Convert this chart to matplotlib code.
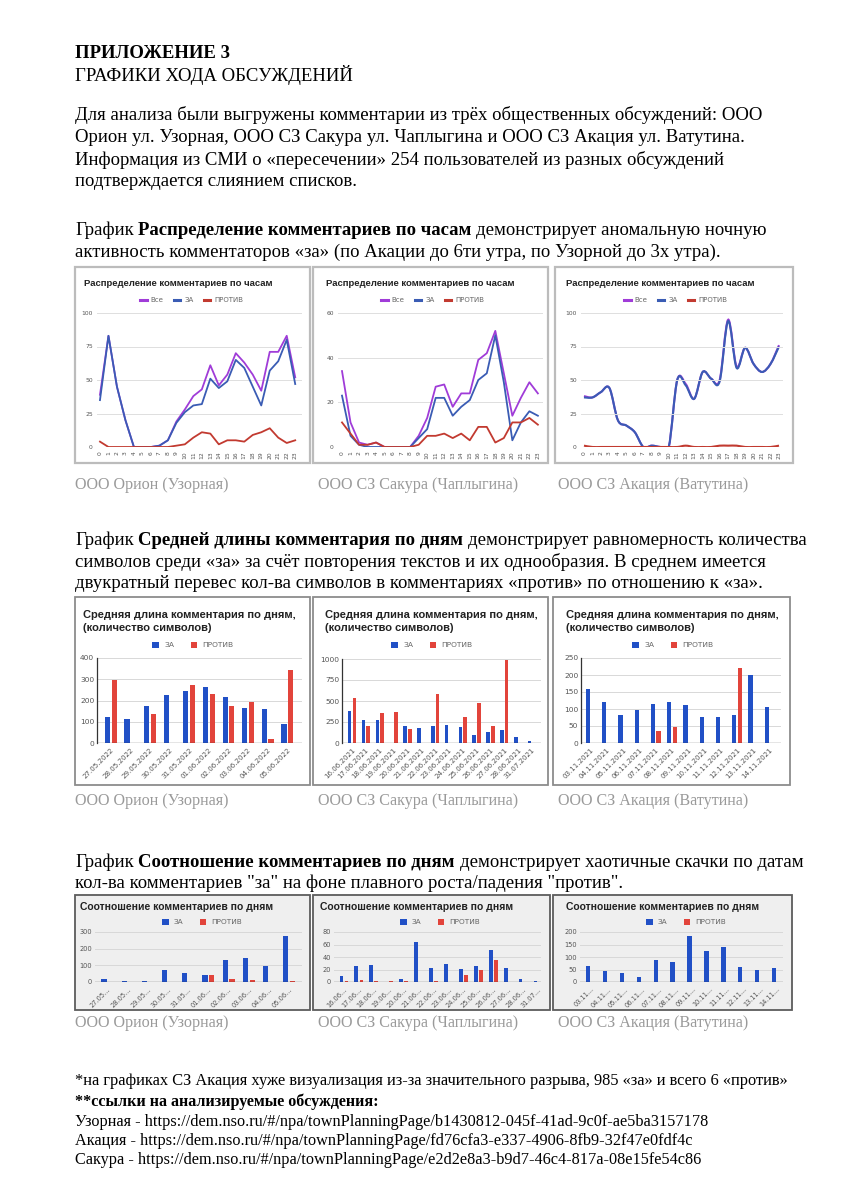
import numpy as np
import matplotlib.pyplot as plt
from matplotlib.path import Path
from matplotlib.patches import PathPatch, Rectangle
from matplotlib.lines import Line2D

W, H = 845, 1200
SERIF = "Liberation Serif"
SANS = "Liberation Sans"

# ---- comments per hour (0..23)
hours = list(range(24))
uzor_all = [39, 83, 45, 20, 0, 0, 0, 1, 5, 19, 28, 38, 43, 61, 46, 54, 70, 63, 54, 42, 71, 71, 83, 52]
uzor_za = [35, 83, 45, 20, 0, 0, 0, 1, 5, 18, 26, 31, 32, 51, 44, 49, 65, 59, 45, 31, 57, 64, 80, 47]
uzor_pr = [4, 0, 0, 0, 0, 0, 0, 0, 0, 1, 2, 7, 11, 10, 2, 5, 5, 4, 9, 11, 14, 7, 3, 5]

sakura_all = [34, 11, 2, 1, 2, 0, 0, 0, 0, 5, 13, 27, 28, 18, 24, 24, 39, 42, 52, 33, 14, 22, 29, 24]
sakura_za = [23, 5, 1, 0, 0, 0, 0, 0, 0, 4, 8, 22, 22, 14, 18, 21, 30, 33, 50, 29, 3, 11, 16, 14]
sakura_pr = [11, 6, 1, 1, 2, 0, 0, 0, 0, 1, 5, 5, 6, 4, 6, 3, 9, 9, 2, 4, 11, 11, 13, 10]

akacia_all = [38, 37, 41, 44, 20, 16, 11, 0, 1, 0, 0, 50, 47, 36, 56, 51, 50, 95, 60, 74, 62, 56, 62, 76]
akacia_za = [37, 37, 41, 44, 20, 16, 11, 0, 1, 0, 0, 50, 46, 36, 56, 51, 49, 94, 59, 74, 62, 56, 62, 75]
akacia_pr = [1, 0, 0, 0, 0, 0, 0, 0, 0, 0, 0, 0, 1, 0, 0, 0, 1, 1, 1, 0, 0, 0, 0, 1]

# ---- average comment length per day
uzor_days = ["27.05.2022", "28.05.2022", "29.05.2022", "30.05.2022", "31.05.2022",
             "01.06.2022", "02.06.2022", "03.06.2022", "04.06.2022", "05.06.2022"]
uzor_len_za = [123, 113, 173, 224, 245, 263, 217, 165, 158, 90]
uzor_len_pr = [297, 0, 137, 0, 275, 230, 176, 195, 18, 342]

sakura_days = ["16.06.2021", "17.06.2021", "18.06.2021", "19.06.2021", "20.06.2021", "21.06.2021",
               "22.06.2021", "23.06.2021", "24.06.2021", "25.06.2021", "26.06.2021", "27.06.2021",
               "28.06.2021", "31.07.2021"]
sakura_len_za = [378, 279, 270, 0, 205, 180, 205, 215, 190, 90, 130, 150, 75, 25]
sakura_len_pr = [538, 207, 363, 370, 170, 0, 582, 0, 310, 475, 205, 990, 0, 0]

akacia_days = ["03.11.2021", "04.11.2021", "05.11.2021", "06.11.2021", "07.11.2021", "08.11.2021",
               "09.11.2021", "10.11.2021", "11.11.2021", "12.11.2021", "13.11.2021", "14.11.2021"]
akacia_len_za = [158, 120, 82, 97, 114, 120, 113, 77, 76, 81, 200, 107]
akacia_len_pr = [0, 0, 0, 0, 35, 48, 0, 0, 0, 222, 0, 0]

# ---- number of comments per day
uzor_cnt_za = [18, 7, 7, 75, 52, 40, 135, 147, 97, 277]
uzor_cnt_pr = [0, 0, 3, 0, 0, 45, 18, 10, 0, 7]
sakura_cnt_za = [10, 26, 27, 0, 5, 64, 22, 29, 21, 26, 52, 23, 5, 1]
sakura_cnt_pr = [2, 4, 1, 1, 1, 0, 2, 0, 11, 19, 35, 0, 0, 0]
akacia_cnt_za = [65, 45, 37, 22, 87, 82, 186, 125, 140, 60, 47, 55]
akacia_cnt_pr = [0, 0, 0, 0, 2, 2, 0, 0, 0, 2, 0, 0]

C_ALL = "#a03cd8"
C_ZA_L = "#3a5cb4"
C_PR_L = "#c23a30"
C_ZA = "#2150c6"
C_PR = "#e2443b"
TICK = "#555555"

fig = plt.figure(figsize=(W / 100, H / 100), dpi=100)
bg = fig.add_axes([0, 0, 1, 1])
bg.set_xlim(0, W)
bg.set_ylim(H, 0)
bg.axis("off")


def axes_at(x0, y0, x1, y1):
    return fig.add_axes([x0 / W, 1 - y1 / H, (x1 - x0) / W, (y1 - y0) / H])


def rich(x, y, parts, size=13.5):
    # parts: list of (text, bold); pieces are chained left to right
    prev = None
    for txt, bold in parts:
        w = "bold" if bold else "normal"
        if prev is None:
            prev = bg.text(x, y, txt, fontsize=size, family=SERIF, weight=w, va="center", ha="left")
        else:
            prev = bg.annotate(txt, xy=(1, 0), xycoords=prev, xytext=(size * 0.25, 0),
                               textcoords="offset points", fontsize=size, family=SERIF,
                               weight=w, va="bottom", ha="left")


def line(x, y, txt, size=13.5, bold=False, color="black"):
    bg.text(x, y, txt, fontsize=size, family=SERIF, weight="bold" if bold else "normal",
            va="center", ha="left", color=color)


def smooth_path(xs, ys):
    xs = np.asarray(xs, float)
    ys = np.asarray(ys, float)
    n = len(xs)
    verts = [(xs[0], ys[0])]
    codes = [Path.MOVETO]
    for i in range(n - 1):
        a, b = max(i - 1, 0), min(i + 2, n - 1)
        c1 = (xs[i] + (xs[i + 1] - xs[a]) / 6, ys[i] + (ys[i + 1] - ys[a]) / 6)
        c2 = (xs[i + 1] - (xs[b] - xs[i]) / 6, ys[i + 1] - (ys[b] - ys[i]) / 6)
        verts += [c1, c2, (xs[i + 1], ys[i + 1])]
        codes += [Path.CURVE4] * 3
    return Path(verts, codes)


# ---------------- text blocks
line(75, 54, "ПРИЛОЖЕНИЕ 3", bold=True)
line(75, 75, "ГРАФИКИ ХОДА ОБСУЖДЕНИЙ")
line(75, 115, "Для анализа были выгружены комментарии из трёх общественных обсуждений: ООО")
line(75, 137, "Орион ул. Узорная, ООО СЗ Сакура ул. Чаплыгина и ООО СЗ Акация ул. Ватутина.")
line(75, 160, "Информация из СМИ о «пересечении» 254 пользователей из разных обсуждений")
line(75, 182, "подтверждается слиянием списков.")

rich(75, 230, [("График", False), ("Распределение комментариев по часам", True),
               ("демонстрирует аномальную ночную", False)])
line(75, 252, "активность комментаторов «за» (по Акации до 6ти утра, по Узорной до 3х утра).")

rich(75, 540, [("График", False), ("Средней длины комментария по дням", True),
               ("демонстрирует равномерность количества", False)])
line(75, 562, "символов среди «за» за счёт повторения текстов и их однообразия. В среднем имеется")
line(75, 583, "двукратный перевес кол-ва символов в комментариях «против» по отношению к «за».")

rich(75, 862, [("График", False), ("Соотношение комментариев по дням", True),
               ("демонстрирует хаотичные скачки по датам", False)])
line(75, 883, "кол-ва комментариев \"за\" на фоне плавного роста/падения \"против\".")

captions = ["ООО Орион (Узорная)", "ООО СЗ Сакура (Чаплыгина)", "ООО СЗ Акация (Ватутина)"]
for cy in (485, 801, 1023):
    for cx, cap in zip((75, 318, 558), captions):
        line(cx, cy, cap, size=11.6, color="#9a9a9a")

line(75, 1081, "*на графиках СЗ Акация хуже визуализация из-за значительного разрыва, 985 «за» и всего 6 «против»", size=11.75)
line(75, 1102, "**ссылки на анализируемые обсуждения:", size=11.6, bold=True)
line(75, 1122, "Узорная - https://dem.nso.ru/#/npa/townPlanningPage/b1430812-045f-41ad-9c0f-ae5ba3157178", size=11.66)
line(75, 1141, "Акация - https://dem.nso.ru/#/npa/townPlanningPage/fd76cfa3-e337-4906-8fb9-32f47e0fdf4c", size=11.66)
line(75, 1160, "Сакура - https://dem.nso.ru/#/npa/townPlanningPage/e2d2e8a3-b9d7-46c4-817a-08e15fe54c86", size=11.66)

# ---------------- row 1: comments per hour
hour_panels = [
    dict(frame=(75, 267, 310, 463), ax=(97, 313, 302, 447), xlim=(-0.35, 23.8), yt=[0, 25, 50, 75, 100],
         tx=84, lx=192, data=(uzor_all, uzor_za, uzor_pr), smooth=False),
    dict(frame=(313, 267, 548, 463), ax=(338, 313, 543, 447), xlim=(-0.47, 23.6), yt=[0, 20, 40, 60],
         tx=326, lx=433, data=(sakura_all, sakura_za, sakura_pr), smooth=False),
    dict(frame=(555, 267, 793, 463), ax=(581, 313, 783, 447), xlim=(-0.35, 23.47), yt=[0, 25, 50, 75, 100],
         tx=566, lx=676, data=(akacia_all, akacia_za, akacia_pr), smooth=True),
]
for p in hour_panels:
    x0, y0, x1, y1 = p["frame"]
    bg.add_patch(Rectangle((x0, y0), x1 - x0, y1 - y0, fc="white", ec="#bcbcbc", lw=1.6))
    bg.text(p["tx"], 284, "Распределение комментариев по часам", family=SANS, weight="bold",
            fontsize=6.8, va="center", color="#222222")
    ax = axes_at(*p["ax"])
    ax.set_facecolor("none")
    for vals, col in zip(p["data"], (C_ALL, C_ZA_L, C_PR_L)):
        if p["smooth"]:
            ax.add_patch(PathPatch(smooth_path(hours, vals), fill=False, ec=col, lw=1.5))
        else:
            ax.plot(hours, vals, color=col, lw=1.3)
    ax.set_xlim(*p["xlim"])
    ax.set_ylim(0, p["yt"][-1])
    ax.set_yticks(p["yt"])
    ax.set_xticks(hours, [str(h) for h in hours], rotation=90)
    ax.tick_params(length=0, labelsize=4.3, colors=TICK, pad=3)
    ax.yaxis.grid(True, color="#dedede", lw=0.7)
    for s in ax.spines.values():
        s.set_visible(False)
    handles = [Line2D([], [], color=c, lw=2.2) for c in (C_ALL, C_ZA_L, C_PR_L)]
    ax.legend(handles, ["Все", "ЗА", "ПРОТИВ"], ncol=3, loc="center", bbox_to_anchor=(p["lx"], 300),
              bbox_transform=bg.transData, frameon=False, fontsize=5.0, labelcolor="#666666",
              handlelength=0.9, handletextpad=0.6, columnspacing=1.5, borderpad=0)


def bar_panel(p, za, pr, labels, rot_fs, fs, leg_fs, title_lines, title_fs, ty, ly, style):
    x0, y0, x1, y1 = p["frame"]
    if style == 2:
        bg.add_patch(Rectangle((x0, y0), x1 - x0, y1 - y0, fc="white", ec="#8c8c8c", lw=1.3))
    else:
        bg.add_patch(Rectangle((x0, y0), x1 - x0, y1 - y0, fc="#efefef", ec="#5c5c5c", lw=1.3))
    for k, t in enumerate(title_lines):
        bg.text(p["tx"], ty + 13 * k, t, family=SANS, weight="bold", fontsize=title_fs,
                va="center", color="#222222")
    ax = axes_at(*p["ax"])
    ax.set_facecolor("none")
    idx = np.arange(len(za))
    ax.bar(idx - 0.17, za, 0.26, color=C_ZA, label="ЗА", zorder=3)
    ax.bar(idx + 0.17, pr, 0.26, color=C_PR, label="ПРОТИВ", zorder=3)
    ax.set_xlim(*p["xlim"])
    ax.set_ylim(0, p["yt"][-1])
    ax.set_yticks(p["yt"])
    ax.set_xticks(idx, labels, rotation=45, ha="right", rotation_mode="anchor")
    ax.tick_params(axis="y", length=0, labelsize=fs, colors=TICK, pad=2)
    ax.tick_params(axis="x", length=0, labelsize=rot_fs, colors=TICK, pad=3)
    ax.yaxis.grid(True, color="#d8d8d8", lw=0.7, zorder=0)
    ax.set_axisbelow(True)
    for s in ax.spines.values():
        s.set_visible(False)
    ax.axhline(0, color="#333333", lw=0.9, zorder=4)
    if style == 2:
        ax.spines["left"].set_visible(True)
        ax.spines["left"].set_color("#333333")
        ax.spines["left"].set_linewidth(0.9)
    ax.legend(ncol=2, loc="center", bbox_to_anchor=(p["lx"], ly), bbox_transform=bg.transData,
              frameon=False, fontsize=leg_fs, labelcolor="#666666", handlelength=0.9, handleheight=0.9,
              handletextpad=0.7, columnspacing=2.2, borderpad=0)


# ---------------- row 2: average length per day
len_panels = [
    dict(frame=(75, 597, 310, 785), ax=(97, 658, 302, 743), xlim=(-0.7, 9.75),
         yt=[0, 100, 200, 300, 400], tx=83, lx=193),
    dict(frame=(313, 597, 548, 785), ax=(342, 659, 541, 743), xlim=(-0.72, 13.65),
         yt=[0, 250, 500, 750, 1000], tx=325, lx=432),
    dict(frame=(553, 597, 790, 785), ax=(581, 658, 781, 743), xlim=(-0.6, 11.7),
         yt=[0, 50, 100, 150, 200, 250], tx=566, lx=673),
]
len_data = [(uzor_len_za, uzor_len_pr, uzor_days), (sakura_len_za, sakura_len_pr, sakura_days),
            (akacia_len_za, akacia_len_pr, akacia_days)]
for p, (za, pr, days) in zip(len_panels, len_data):
    bar_panel(p, za, pr, days, 5.1, 5.4, 5.4,
              ["Средняя длина комментария по дням,", "(количество символов)"], 8.0, 615, 645, 2)

# ---------------- row 3: number of comments per day
cnt_panels = [
    dict(frame=(75, 895, 310, 1010), ax=(95, 932, 302, 982), xlim=(-0.62, 9.64),
         yt=[0, 100, 200, 300], tx=80, lx=202),
    dict(frame=(313, 895, 550, 1010), ax=(334, 932, 541, 982), xlim=(-0.67, 13.2),
         yt=[0, 20, 40, 60, 80], tx=320, lx=440),
    dict(frame=(553, 895, 792, 1010), ax=(580, 932, 783, 982), xlim=(-0.65, 11.36),
         yt=[0, 50, 100, 150, 200], tx=566, lx=686),
]
cnt_data = [(uzor_cnt_za, uzor_cnt_pr, uzor_days), (sakura_cnt_za, sakura_cnt_pr, sakura_days),
            (akacia_cnt_za, akacia_cnt_pr, akacia_days)]
for p, (za, pr, days) in zip(cnt_panels, cnt_data):
    short = [d[:5] + "..." for d in days]
    bar_panel(p, za, pr, short, 4.8, 4.8, 5.3, ["Соотношение комментариев по дням"], 7.5, 907, 922, 3)

fig.savefig("out.png", dpi=100)
